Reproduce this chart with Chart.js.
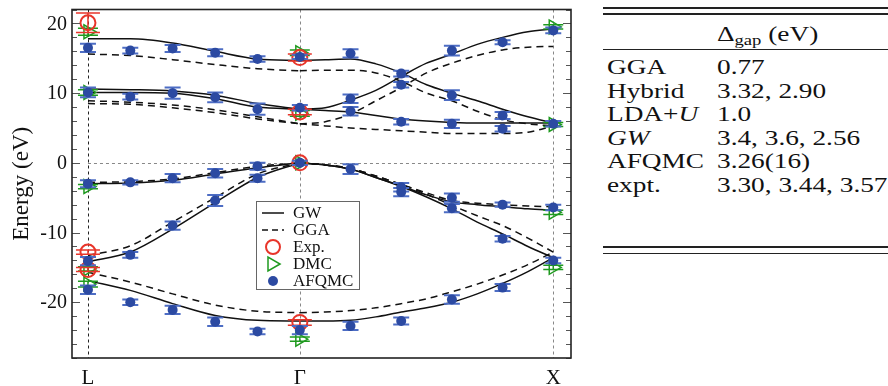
<!DOCTYPE html>
<html>
<head>
<meta charset="utf-8">
<script src="https://cdn.jsdelivr.net/npm/chart.js@4/dist/chart.umd.min.js"></script>
<style>
  html, body { margin: 0; padding: 0; background: #fff; }
  body { width: 888px; height: 386px; position: relative; overflow: hidden; font-family: "Liberation Serif", serif; color: #111; }
  #wrap { position: absolute; left: 0; top: 0; width: 590px; height: 386px; }
  #gaps { position: absolute; left: 603px; top: 0; width: 285px; height: 270px; font-size: 22px; }
  .rule { position: absolute; left: 0; right: 0; background: #222; }
  .row { position: absolute; left: 4px; width: 280px; height: 24px; line-height: 24px; white-space: nowrap; }
  .row span { position: absolute; top: 0; display: inline-block; transform: scaleX(1.24); transform-origin: 0 50%; }
  .row .l { left: 0; }
  .row .v { left: 110px; }
  sub { font-size: 15px; vertical-align: -4px; line-height: 0; }
</style>
</head>
<body>
<div id="wrap"><canvas id="bands"></canvas></div>

<div id="gaps">
  <div class="rule" style="top:7px;height:1.6px"></div>
  <div class="rule" style="top:13px;height:2px"></div>
  <div class="row" style="top:22px"><span class="v">&Delta;<sub>gap</sub> (eV)</span></div>
  <div class="rule" style="top:48.5px;height:1.4px"></div>
  <div class="row" style="top:55px"><span class="l">GGA</span><span class="v">0.77</span></div>
  <div class="row" style="top:78.5px"><span class="l">Hybrid</span><span class="v">3.32, 2.90</span></div>
  <div class="row" style="top:102px"><span class="l">LDA+<i>U</i></span><span class="v">1.0</span></div>
  <div class="row" style="top:125.5px"><span class="l"><i>GW</i></span><span class="v">3.4, 3.6, 2.56</span></div>
  <div class="row" style="top:149px"><span class="l">AFQMC</span><span class="v">3.26(16)</span></div>
  <div class="row" style="top:172.5px"><span class="l">expt.</span><span class="v">3.30, 3.44, 3.57</span></div>
  <div class="rule" style="top:246px;height:2px"></div>
  <div class="rule" style="top:252.5px;height:1.6px"></div>
</div>

<script>
const SERIF = '"Liberation Serif", "Times New Roman", serif';

// k-path: L -> Gamma -> X
const kSym = [0, 0.836, 1.836];
const kLabels = ['L', 'Γ', 'X'];
const yTicks = [-20, -10, 0, 10, 20];
const kLG = [0, 0.167, 0.334, 0.502, 0.669, 0.836];
const kGX = [0.836, 0.936, 1.036, 1.136, 1.236, 1.336, 1.436, 1.536, 1.636, 1.736, 1.836];

// GW bands (solid)
const gwLG_c1 = [17.8, 17.8, 17.2, 16.0, 14.9, 14.7];
const gwLG_c2 = [10.6, 10.5, 10.3, 9.7, 8.5, 7.7];
const gwLG_c3 = [10.1, 10.1, 10.0, 9.2, 8.0, 7.7];
const gwLG_v1 = [-3.0, -2.9, -2.5, -1.6, -0.7, 0];
const gwLG_v2 = [-14.2, -12.8, -9.5, -5.7, -2.1, 0];
const gwLG_v3 = [-16.9, -18.3, -20.2, -21.9, -22.6, -22.7];
const gwGX_c1 = [14.7, 14.8, 14.9, 14.2, 12.9, 11.2, 10.0, 8.9, 7.7, 6.6, 5.7];
const gwGX_c2 = [7.7, 7.9, 9.0, 10.4, 12.4, 14.3, 15.6, 17.0, 18.0, 18.8, 19.2];
const gwGX_c3 = [7.7, 7.5, 7.3, 6.8, 6.3, 6.0, 5.8, 5.7, 5.7, 5.7, 5.7];
const gwGX_v1 = [0, -0.3, -0.9, -2.1, -3.3, -4.6, -5.6, -6.0, -6.3, -6.6, -6.8];
const gwGX_v2 = [0, -0.3, -0.9, -2.1, -3.4, -4.9, -6.6, -8.5, -10.2, -12.0, -13.6];
const gwGX_v3 = [-22.7, -22.7, -22.6, -22.1, -21.4, -20.8, -20.0, -18.8, -17.3, -15.6, -13.6];

// GGA bands (dashed)
const ggaLG_c1 = [15.6, 15.4, 14.8, 14.1, 13.5, 13.2];
const ggaLG_c2 = [8.9, 8.7, 8.3, 7.6, 6.6, 5.6];
const ggaLG_c3 = [8.5, 8.4, 7.9, 7.2, 6.3, 5.6];
const ggaLG_v1 = [-2.8, -2.7, -2.3, -1.4, -0.5, 0];
const ggaLG_v2 = [-13.3, -11.9, -8.5, -5.0, -1.6, 0];
const ggaLG_v3 = [-15.7, -17.1, -18.8, -20.4, -21.3, -21.5];
const ggaGX_c1 = [13.2, 13.3, 13.3, 12.9, 11.7, 10.0, 8.9, 7.4, 6.2, 5.6, 5.3];
const ggaGX_c2 = [5.6, 5.9, 7.0, 8.9, 10.8, 12.9, 14.3, 15.4, 16.2, 16.6, 16.7];
const ggaGX_c3 = [5.6, 5.3, 5.0, 4.8, 4.6, 4.4, 4.2, 4.2, 4.2, 4.4, 5.3];
const ggaGX_v1 = [0, -0.3, -0.8, -1.9, -3.1, -4.3, -5.4, -5.8, -6.0, -6.2, -6.3];
const ggaGX_v2 = [0, -0.3, -0.8, -1.9, -3.1, -4.5, -6.1, -7.6, -9.0, -10.8, -12.8];
const ggaGX_v3 = [-21.5, -21.4, -21.2, -20.8, -20.2, -19.5, -18.5, -17.4, -16.1, -14.6, -12.8];

// AFQMC points with error bars
const afqK = [0, 0, 0, 0, 0,
  0.167, 0.167, 0.167, 0.167, 0.167,
  0.334, 0.334, 0.334, 0.334, 0.334,
  0.502, 0.502, 0.502, 0.502, 0.502,
  0.669, 0.669, 0.669, 0.669, 0.669,
  0.836, 0.836, 0.836, 0.836,
  1.036, 1.036, 1.036, 1.036, 1.036,
  1.236, 1.236, 1.236, 1.236, 1.236, 1.236,
  1.436, 1.436, 1.436, 1.436, 1.436, 1.436,
  1.636, 1.636, 1.636, 1.636, 1.636, 1.636,
  1.836, 1.836, 1.836, 1.836];
const afqE = [16.5, 10.1, -3.0, -14.1, -18.2,
  16.1, 9.5, -2.8, -13.2, -20.0,
  16.4, 10.0, -2.2, -9.0, -21.1,
  15.8, 9.4, -1.5, -5.4, -22.8,
  14.9, 7.7, -0.5, -2.2, -24.2,
  15.2, 7.9, 0.0, -24.0,
  15.7, 9.2, 7.4, -0.9, -23.4,
  12.8, 11.2, 5.9, -3.5, -4.2, -22.7,
  16.1, 9.7, 5.6, -5.0, -6.5, -19.6,
  17.3, 6.8, 4.9, -6.0, -10.9, -17.9,
  19.0, 5.6, -6.4, -14.0];
const afqErr = [0.6, 0.7, 0.5, 0.6, 0.6,
  0.4, 0.4, 0.3, 0.4, 0.4,
  0.5, 0.8, 0.6, 0.6, 0.6,
  0.5, 0.7, 0.6, 0.8, 0.6,
  0.4, 0.8, 0.5, 0.5, 0.4,
  0.3, 0.4, 0.3, 0.6,
  0.6, 0.6, 0.6, 0.7, 0.6,
  0.4, 0.4, 0.4, 0.6, 0.6, 0.5,
  0.7, 0.7, 0.6, 0.6, 0.6, 0.6,
  0.3, 0.5, 0.4, 0.3, 0.4, 0.5,
  0.4, 0.4, 0.4, 0.4];

// experiment
const expK = [0, 0, 0, 0.836, 0.836, 0.836, 0.836];
const expE = [20.1, -12.8, -15.3, 15.1, 7.3, 0.0, -22.9];
const expErr = [1.4, 0.3, 0.3, 0.5, 0.4, 0, 0.4];

// DMC
const dmcK = [0, 0, 0, 0, 0, 0.836, 0.836, 0.836, 0.836, 1.836, 1.836, 1.836, 1.836];
const dmcE = [18.8, 10.1, -3.4, -15.2, -17.4, 15.8, 7.1, 0.0, -25.3, 19.5, 5.5, -7.1, -15.0];
const dmcErr = [0.5, 0.4, 0.3, 0.3, 0.4, 0.4, 0.4, 0, 0.3, 0.3, 0.3, 0.3, 0.3];

function band(k, e, dashed) {
  return {
    data: k.map((x, i) => ({ x: x, y: e[i] })),
    showLine: true,
    borderColor: '#111',
    borderWidth: 1.5,
    borderDash: dashed ? [7, 5] : [],
    pointRadius: 0,
    cubicInterpolationMode: 'monotone',
    order: 5,
  };
}

function pts(k, e) {
  return k.map((x, i) => ({ x: x, y: e[i] }));
}

const datasets = [
  band(kLG, gwLG_c1), band(kLG, gwLG_c2), band(kLG, gwLG_c3),
  band(kLG, gwLG_v1), band(kLG, gwLG_v2), band(kLG, gwLG_v3),
  band(kGX, gwGX_c1), band(kGX, gwGX_c2), band(kGX, gwGX_c3),
  band(kGX, gwGX_v1), band(kGX, gwGX_v2), band(kGX, gwGX_v3),
  band(kLG, ggaLG_c1, true), band(kLG, ggaLG_c2, true), band(kLG, ggaLG_c3, true),
  band(kLG, ggaLG_v1, true), band(kLG, ggaLG_v2, true), band(kLG, ggaLG_v3, true),
  band(kGX, ggaGX_c1, true), band(kGX, ggaGX_c2, true), band(kGX, ggaGX_c3, true),
  band(kGX, ggaGX_v1, true), band(kGX, ggaGX_v2, true), band(kGX, ggaGX_v3, true),
  {
    label: 'DMC', data: pts(dmcK, dmcE), errors: dmcErr,
    errColor: '#1f9a1f', errWidth: 1.5, capHalf: 10,
    pointStyle: 'triangle', rotation: 90, pointRadius: 8,
    borderColor: '#1f9a1f', borderWidth: 1.5, backgroundColor: 'rgba(0,0,0,0)', order: 3,
  },
  {
    label: 'Exp.', data: pts(expK, expE), errors: expErr,
    errColor: '#e8352a', errWidth: 1.5, capHalf: 12,
    pointStyle: 'circle', pointRadius: 7.5,
    borderColor: '#e8352a', borderWidth: 2, backgroundColor: 'rgba(0,0,0,0)', order: 2,
  },
  {
    label: 'AFQMC', data: pts(afqK, afqE), errors: afqErr,
    errColor: '#4d6dc4', errWidth: 2, capHalf: 8,
    pointStyle: 'circle', pointRadius: 5,
    borderWidth: 0, backgroundColor: '#2c4aa2', order: 1,
  },
];

// error bars drawn under each marker set
const errorBars = {
  id: 'errorBars',
  beforeDatasetDraw(chart, args) {
    const ds = chart.data.datasets[args.index];
    if (!ds.errors) return;
    const ctx = chart.ctx;
    const xs = chart.scales.x, ys = chart.scales.y;
    ctx.save();
    ctx.strokeStyle = ds.errColor;
    ctx.lineWidth = ds.errWidth;
    ds.data.forEach((p, i) => {
      const e = ds.errors[i];
      if (!e) return;
      const px = xs.getPixelForValue(p.x);
      const top = ys.getPixelForValue(p.y + e);
      const bot = ys.getPixelForValue(p.y - e);
      ctx.beginPath();
      ctx.moveTo(px, top); ctx.lineTo(px, bot);
      ctx.moveTo(px - ds.capHalf, top); ctx.lineTo(px + ds.capHalf, top);
      ctx.moveTo(px - ds.capHalf, bot); ctx.lineTo(px + ds.capHalf, bot);
      ctx.stroke();
    });
    ctx.restore();
  }
};

// reference lines, frame, inward ticks, y labels, legend box
const frame = {
  id: 'frame',
  beforeDatasetsDraw(chart) {
    const ctx = chart.ctx, a = chart.chartArea;
    const xs = chart.scales.x, ys = chart.scales.y;
    ctx.save();
    ctx.lineWidth = 1;
    ctx.setLineDash([3, 3]);
    kSym.forEach((k, i) => {
      const px = Math.round(xs.getPixelForValue(k)) + 0.5;
      ctx.strokeStyle = i === 0 ? '#222' : '#888';
      ctx.beginPath(); ctx.moveTo(px, a.top); ctx.lineTo(px, a.bottom); ctx.stroke();
    });
    const py = Math.round(ys.getPixelForValue(0)) + 0.5;
    ctx.strokeStyle = '#888';
    ctx.beginPath();
    ctx.moveTo(xs.getPixelForValue(kSym[0]), py);
    ctx.lineTo(xs.getPixelForValue(kSym[2]), py);
    ctx.stroke();
    ctx.restore();
  },
  afterDatasetsDraw(chart) {
    const ctx = chart.ctx, a = chart.chartArea;
    const ys = chart.scales.y;
    ctx.save();
    ctx.strokeStyle = '#555';
    ctx.lineWidth = 1;
    for (let v = -28; v <= 22; v += 2) {
      const py = Math.round(ys.getPixelForValue(v)) + 0.5;
      const len = v % 10 === 0 ? 8 : 5;
      ctx.beginPath();
      ctx.moveTo(a.left, py); ctx.lineTo(a.left + len, py);
      ctx.moveTo(a.right, py); ctx.lineTo(a.right - len, py);
      ctx.stroke();
    }
    ctx.strokeStyle = '#222';
    ctx.lineWidth = 1.6;
    ctx.strokeRect(a.left, a.top, a.right - a.left, a.bottom - a.top);

    // y tick labels and axis title
    ctx.fillStyle = '#111';
    ctx.font = '20px ' + SERIF;
    ctx.textAlign = 'right';
    ctx.textBaseline = 'middle';
    yTicks.forEach((v) => ctx.fillText(String(v), a.left - 5, ys.getPixelForValue(v) + 1));
    ctx.translate(22, (a.top + a.bottom) / 2);
    ctx.rotate(-Math.PI / 2);
    ctx.textAlign = 'center';
    ctx.font = '23px ' + SERIF;
    ctx.fillText('Energy (eV)', 0, 0);
    ctx.restore();
  },
  afterDraw(chart) {
    const ctx = chart.ctx;
    const H = Chart.helpers;
    ctx.save();
    ctx.fillStyle = '#fff';
    ctx.fillRect(256, 201, 104, 89);
    ctx.strokeStyle = '#666';
    ctx.lineWidth = 1;
    ctx.strokeRect(256.5, 201.5, 103, 88);
    const rows = [213, 230, 247, 264, 281];
    const names = ['GW', 'GGA', 'Exp.', 'DMC', 'AFQMC'];
    ctx.strokeStyle = '#111';
    ctx.lineWidth = 1.5;
    ctx.beginPath(); ctx.moveTo(262, rows[0]); ctx.lineTo(284, rows[0]); ctx.stroke();
    ctx.setLineDash([6, 4]);
    ctx.beginPath(); ctx.moveTo(262, rows[1]); ctx.lineTo(284, rows[1]); ctx.stroke();
    ctx.setLineDash([]);
    ctx.strokeStyle = '#e8352a'; ctx.lineWidth = 2;
    ctx.beginPath(); ctx.arc(273, rows[2], 7, 0, Math.PI * 2); ctx.stroke();
    ctx.strokeStyle = '#1f9a1f'; ctx.lineWidth = 1.5;
    H.drawPoint(ctx, { pointStyle: 'triangle', radius: 8, rotation: 90, borderWidth: 1.5 }, 272, rows[3]);
    ctx.fillStyle = '#2c4aa2';
    ctx.beginPath(); ctx.arc(273, rows[4], 5, 0, Math.PI * 2); ctx.fill();
    ctx.fillStyle = '#111';
    ctx.font = '17px ' + SERIF;
    ctx.textAlign = 'left';
    ctx.textBaseline = 'middle';
    names.forEach((n, i) => ctx.fillText(n, 293, rows[i] + 1));
    ctx.restore();
  }
};

new Chart(document.getElementById('bands'), {
  type: 'scatter',
  data: { datasets: datasets },
  plugins: [errorBars, frame],
  options: {
    responsive: true,
    maintainAspectRatio: false,
    animation: false,
    layout: { padding: { left: 0, top: 8, right: 19, bottom: 0 } },
    plugins: { legend: { display: false }, tooltip: { enabled: false } },
    scales: {
      x: {
        type: 'linear', min: -0.063, max: 1.906,
        afterBuildTicks: (s) => { s.ticks = kSym.map((v) => ({ value: v })); },
        afterFit: (s) => { s.height = 28; },
        ticks: {
          callback: (v, i) => kLabels[i],
          font: { family: SERIF, size: 21 }, color: '#111', padding: 8,
          maxRotation: 0, autoSkip: false,
        },
        grid: { display: false, drawTicks: false },
        border: { display: false },
      },
      y: {
        min: -28, max: 22,
        afterBuildTicks: (s) => { s.ticks = yTicks.map((v) => ({ value: v })); },
        afterFit: (s) => { s.width = 72; },
        ticks: { display: false },
        grid: { display: false, drawTicks: false },
        border: { display: false },
      },
    },
  },
});
</script>
</body>
</html>
